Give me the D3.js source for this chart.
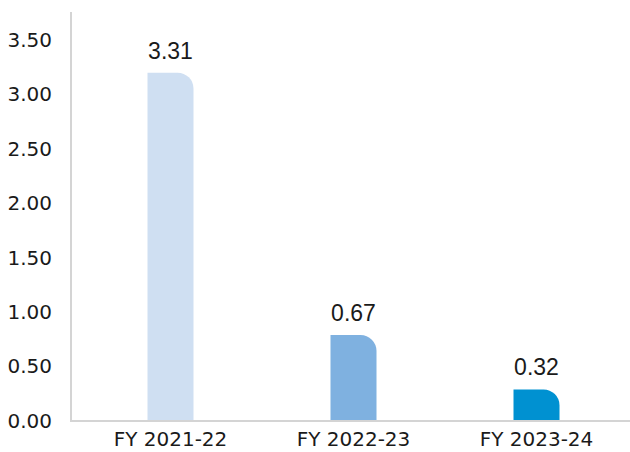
<!DOCTYPE html>
<html>
<head>
<meta charset="utf-8">
<script src="https://cdn.jsdelivr.net/npm/d3@7"></script>
<style>
  body { margin: 0; background: #fff; }
  text { font-family: "DejaVu Sans", sans-serif; fill: #1a1a1a; }
</style>
</head>
<body>
<div id="chart"></div>
<script>
// Data
const categories = ['FY 2021-22', 'FY 2022-23', 'FY 2023-24'];
const valueLabels = ['3.31', '0.67', '0.32'];
const barValues = [3.20, 0.79, 0.29]; // bar heights as drawn
const barColors = ['#cfdff2', '#7fb1e0', '#0091d1'];
const yTicks = [0, 0.5, 1, 1.5, 2, 2.5, 3, 3.5];

const width = 630, height = 452;
const margin = {top: 12, right: 0, bottom: 31, left: 71};

const svg = d3.select('#chart').append('svg')
    .attr('width', width)
    .attr('height', height);

// Scales
const x = d3.scaleBand()
    .domain(categories)
    .range([79, 628]);

const y = d3.scaleLinear()
    .domain([0, 3.5])
    .range([421, 40]);

// Y tick labels
svg.append('g')
    .attr('transform', 'translate(52,0)')
    .call(d3.axisLeft(y).tickValues(yTicks).tickFormat(d3.format('.2f')).tickSize(0).tickPadding(0))
    .call(g => g.select('.domain').remove())
    .selectAll('text')
    .style('font-size', '20px')
    .style('font-family', '"DejaVu Sans", sans-serif')
    .attr('fill', '#1a1a1a');

// Axis lines
svg.append('line')
    .attr('x1', margin.left).attr('x2', margin.left)
    .attr('y1', margin.top).attr('y2', y(0))
    .attr('stroke', '#d4d4d4').attr('stroke-width', 2);
svg.append('line')
    .attr('x1', margin.left - 1).attr('x2', width)
    .attr('y1', y(0)).attr('y2', y(0))
    .attr('stroke', '#d4d4d4').attr('stroke-width', 2);

// Bars with rounded top-right corner
const barW = 46, r = 16;
function barPath(d, i) {
    const cx = x(categories[i]) + x.bandwidth() / 2;
    const x0 = cx - barW / 2, x1 = cx + barW / 2;
    const yt = y(d), yb = y(0) - 1;
    const rr = Math.min(r, yb - yt);
    return `M${x0},${yb}V${yt}H${x1 - rr}A${rr},${rr} 0 0 1 ${x1},${yt + rr}V${yb}Z`;
}

svg.append('g').selectAll('path')
    .data(barValues)
    .join('path')
    .attr('d', barPath)
    .attr('fill', (d, i) => barColors[i]);

// Value labels
svg.append('g').selectAll('text')
    .data(barValues)
    .join('text')
    .attr('x', (d, i) => x(categories[i]) + x.bandwidth() / 2)
    .attr('y', d => y(d) - 14)
    .attr('text-anchor', 'middle')
    .style('font-family', '"Liberation Sans", Arial, sans-serif')
    .style('font-size', '23px')
    .text((d, i) => valueLabels[i]);

// Category labels
svg.append('g')
    .attr('transform', `translate(0,${y(0)})`)
    .call(d3.axisBottom(x).tickSize(0).tickPadding(11))
    .call(g => g.select('.domain').remove())
    .selectAll('text')
    .style('font-size', '20px')
    .style('font-family', '"DejaVu Sans", sans-serif')
    .attr('fill', '#1a1a1a');
</script>
</body>
</html>
